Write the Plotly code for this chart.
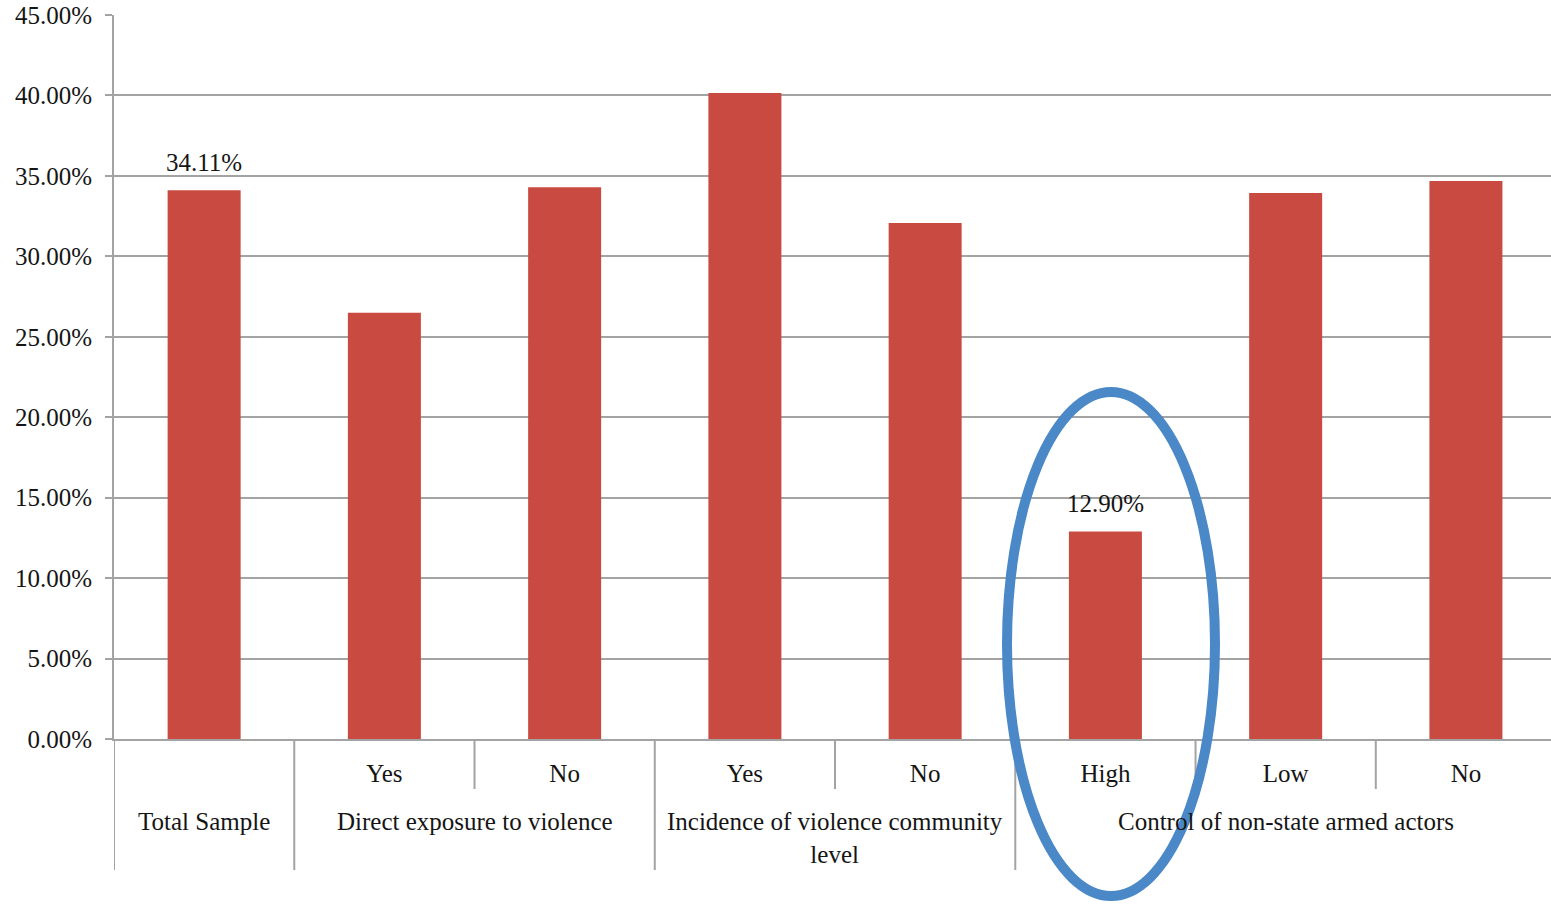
import plotly.graph_objects as go

# Share of respondents by subgroup
groups = ["Total Sample",
          "Direct exposure to violence", "Direct exposure to violence",
          "Incidence of violence community<br>level", "Incidence of violence community<br>level",
          "Control of non-state armed actors", "Control of non-state armed actors",
          "Control of non-state armed actors"]
subgroups = ["", "Yes", "No", "Yes", "No", "High", "Low", "No"]
values = [0.3411, 0.265, 0.343, 0.4015, 0.3207, 0.1290, 0.3393, 0.3468]
labelled = [0, 5]  # bars that carry a value label

y_ticks = [i * 0.05 for i in range(10)]

FONT = "Liberation Serif"
FS = 25
INK = "#151515"
GRID = "#a3a3a3"
BAR = "#c94a41"
LEFT, TOP, BOTTOM = 114, 15, 166
PLOT_W = 1551 - LEFT
PLOT_H = 905 - TOP - BOTTOM

pos = list(range(len(values)))

fig = go.Figure()
fig.add_trace(go.Bar(
    x=pos,
    y=values,
    width=0.405,
    marker=dict(color=BAR, line=dict(width=0)),
    hovertemplate="%{y:.2%}<extra></extra>",
))

# value labels above selected bars
for i in labelled:
    fig.add_annotation(x=pos[i], y=values[i], xref="x", yref="y",
                       text=f"{values[i] * 100:.2f}%", showarrow=False,
                       yanchor="bottom", yshift=12,
                       font=dict(family=FONT, size=FS, color=INK))

fig.update_layout(
    width=1551, height=905,
    margin=dict(l=LEFT, r=0, t=TOP, b=BOTTOM),
    paper_bgcolor="white", plot_bgcolor="white",
    showlegend=False,
    font=dict(family=FONT, size=FS, color=INK),
)

fig.update_yaxes(
    range=[0, 0.45],
    tickvals=y_ticks,
    tickformat=".2%",
    showgrid=True, gridcolor=GRID, gridwidth=2,
    showline=True, linecolor=GRID, linewidth=2,
    ticks="outside", ticklen=7, tickcolor=GRID, tickwidth=2,
    ticklabelstandoff=8,
    tickfont=dict(family=FONT, size=FS, color=INK),
    zeroline=False,
)

# the chart runs slightly past the right edge of the page
fig.update_xaxes(
    range=[-0.5, len(values) - 0.528],
    tickvals=pos, ticktext=subgroups,
    showgrid=False, zeroline=False,
    showline=True, linecolor=GRID, linewidth=2,
    ticks="", ticklabelstandoff=11,
    tickfont=dict(family=FONT, size=FS, color=INK),
)

# group labels and the separators of the two-level category axis
long_sep = -131 / PLOT_H
short_sep = -50 / PLOT_H
start = 0
for k in range(1, len(values) + 1):
    if k == len(values) or groups[k] != groups[start]:
        fig.add_annotation(x=(pos[start] + pos[k - 1]) / 2, y=0, xref="x", yref="paper",
                           text=groups[start], showarrow=False,
                           yanchor="top", yshift=-67,
                           font=dict(family=FONT, size=FS, color=INK))
        fig.add_shape(type="line", xref="x", yref="paper",
                      x0=pos[start] - 0.5, x1=pos[start] - 0.5, y0=0, y1=long_sep,
                      line=dict(color=GRID, width=2))
        for j in range(start + 1, k):
            fig.add_shape(type="line", xref="x", yref="paper",
                          x0=pos[j] - 0.5, x1=pos[j] - 0.5, y0=0, y1=short_sep,
                          line=dict(color=GRID, width=2))
        start = k

# highlight ring around the "High" bar
fig.add_shape(type="circle", xref="paper", yref="paper",
              x0=(1007 - LEFT) / PLOT_W, x1=(1215 - LEFT) / PLOT_W,
              y0=(739 - 896) / PLOT_H, y1=(739 - 392) / PLOT_H,
              line=dict(color="#4a88c8", width=10))

fig.write_html("out.html")
